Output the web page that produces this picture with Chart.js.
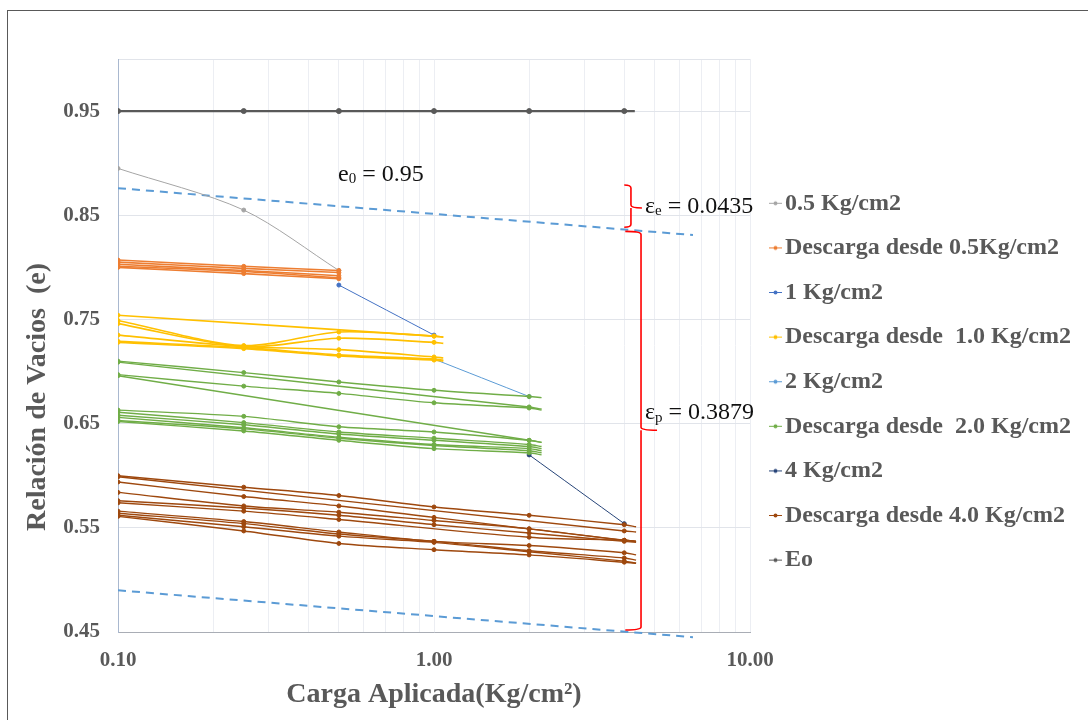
<!DOCTYPE html>
<html lang="es">
<head>
<meta charset="utf-8">
<title>Relación de Vacios vs Carga Aplicada</title>
<script src="https://cdn.jsdelivr.net/npm/chart.js@4.4.0/dist/chart.umd.min.js"></script>
<style>
  html, body { margin: 0; padding: 0; background: #fff; overflow: hidden; }
  #grafico { position: absolute; left: 0; top: 0; }
  #marco { position: absolute; left: 7px; top: 10px; width: 1200px; height: 800px;
           border: 1px solid #595959; pointer-events: none; }
</style>
</head>
<body>
<canvas id="grafico" width="1088" height="720"></canvas>
<div id="marco"></div>
<script>
// escalones de carga (Kg/cm2)
const cargas = [0.1, 0.25, 0.5, 1, 2, 4];
const yTicks = [0.45, 0.55, 0.65, 0.75, 0.85, 0.95];
const xTicksConEtiqueta = [0.1, 1, 10];

// Eo
const xEo = [0.1, 0.25, 0.5, 1, 2, 4, 4.32];
const eo = [0.95, 0.95, 0.95, 0.95, 0.95, 0.95, 0.95];

// curvas de carga
const xCarga05 = [0.1, 0.25, 0.5];
const carga05 = [0.895, 0.855, 0.797];
const xCarga1 = [0.5, 1];
const carga1 = [0.783, 0.735];
const xCarga2 = [1, 2];
const carga2 = [0.712, 0.676];
const xCarga4 = [2, 4];
const carga4 = [0.620, 0.554];

// descargas (ultimo valor = fin de la linea, sin marcador)
const xDescarga05 = [0.1, 0.25, 0.5];
const descarga05 = [
  [0.807, 0.801, 0.797],
  [0.805, 0.799, 0.795],
  [0.803, 0.797, 0.792],
  [0.801, 0.796, 0.790],
  [0.800, 0.794, 0.789]
];
const xDescarga1 = [0.1, 0.25, 0.5, 1, 1.07];
const descarga1 = [
  [0.754, null, null, 0.734, 0.733],
  [0.749, 0.725, 0.738, 0.734, 0.733],
  [0.746, 0.724, 0.732, 0.728, 0.727],
  [0.735, 0.724, 0.721, 0.714, 0.713],
  [0.729, 0.723, 0.716, 0.712, 0.711],
  [0.728, 0.722, 0.715, 0.711, 0.710]
];
const xDescarga2 = [0.1, 0.25, 0.5, 1, 2, 2.19];
const descarga2 = [
  [0.710, 0.699, 0.690, 0.682, 0.676, 0.675],
  [0.709, null, null, null, 0.666, 0.664],
  [0.697, 0.686, 0.679, 0.670, 0.665, 0.663],
  [0.696, null, null, null, 0.634, 0.632],
  [0.663, 0.657, 0.647, 0.642, 0.634, 0.632],
  [0.661, 0.651, 0.642, 0.636, 0.630, 0.628],
  [0.658, 0.649, 0.640, 0.634, 0.628, 0.626],
  [0.656, 0.646, 0.637, 0.630, 0.626, 0.624],
  [0.653, 0.645, 0.636, 0.629, 0.624, 0.622],
  [0.652, 0.643, 0.634, 0.626, 0.622, 0.620]
];
const xDescarga4 = [0.1, 0.25, 0.5, 1, 2, 4, 4.36];
const descarga4 = [
  [0.600, 0.589, 0.581, 0.570, 0.562, 0.553, 0.551],
  [0.599, null, null, null, null, 0.547, 0.546],
  [0.594, 0.580, 0.571, 0.560, 0.549, 0.538, 0.537],
  [0.584, 0.571, 0.565, 0.557, 0.549, 0.538, 0.537],
  [0.576, 0.569, 0.562, 0.553, 0.545, 0.537, 0.536],
  [0.574, 0.566, 0.558, null, 0.541, 0.538, 0.537],
  [0.566, 0.556, 0.546, 0.537, 0.533, 0.526, 0.524],
  [0.564, 0.554, 0.544, 0.537, 0.528, 0.521, 0.519],
  [0.562, 0.551, 0.542, 0.536, 0.527, 0.518, 0.516],
  [0.561, 0.547, 0.535, 0.529, 0.524, 0.517, 0.516]
];

// rectas punteadas
const xTendencia = [0.1, 6.6];
const tendenciaSup = [0.876, 0.831];
const tendenciaInf = [0.490, 0.445];

const nombresSeries = ['0.5 Kg/cm2', 'Descarga desde 0.5Kg/cm2', '1 Kg/cm2', 'Descarga desde  1.0 Kg/cm2',
  '2 Kg/cm2', 'Descarga desde  2.0 Kg/cm2', '4 Kg/cm2', 'Descarga desde 4.0 Kg/cm2', 'Eo'];
const coloresSeries = ['#A5A5A5', '#ED7D31', '#4472C4', '#FFC000', '#5B9BD5', '#70AD47', '#264478', '#9E480E', '#595959'];

const FUENTE = "'Liberation Serif', 'Times New Roman', serif";
const GRIS = '#595959';
const ANCHO_LEYENDA = 338;

function puntos(xs, ys) {
    return xs.map((x, i) => ({ x: x, y: ys[i] }));
}
function radios(xs, ys, r) {
    return xs.map((x, i) => (cargas.includes(x) && ys[i] !== null ? r : 0));
}
function linea(label, color, xs, ys, ancho, r) {
    return {
        label: label,
        data: puntos(xs, ys),
        borderColor: color,
        backgroundColor: color,
        pointBackgroundColor: color,
        pointBorderColor: color,
        borderWidth: ancho,
        pointRadius: radios(xs, ys, r),
        pointBorderWidth: 1,
        pointHoverRadius: 0,
        tension: 0.3,
        spanGaps: true,
        fill: false
    };
}
function punteada(ys) {
    return {
        label: 'tendencia',
        data: puntos(xTendencia, ys),
        borderColor: '#5B9BD5',
        borderWidth: 2,
        borderDash: [8, 6],
        pointRadius: 0,
        tension: 0,
        clip: false,
        fill: false
    };
}

let datasets = [];
descarga05.forEach(ys => datasets.push(linea(nombresSeries[1], coloresSeries[1], xDescarga05, ys, 1.6, 2)));
descarga1.forEach(ys => datasets.push(linea(nombresSeries[3], coloresSeries[3], xDescarga1, ys, 1.6, 2)));
descarga2.forEach(ys => datasets.push(linea(nombresSeries[5], coloresSeries[5], xDescarga2, ys, 1.4, 2)));
descarga4.forEach(ys => datasets.push(linea(nombresSeries[7], coloresSeries[7], xDescarga4, ys, 1.4, 2)));
datasets.push(linea(nombresSeries[0], coloresSeries[0], xCarga05, carga05, 1, 2));
datasets.push(linea(nombresSeries[2], coloresSeries[2], xCarga1, carga1, 1, 2));
datasets.push(linea(nombresSeries[4], coloresSeries[4], xCarga2, carga2, 1, 2));
datasets.push(linea(nombresSeries[6], coloresSeries[6], xCarga4, carga4, 1, 2));
datasets.push(linea(nombresSeries[8], coloresSeries[8], xEo, eo, 2.25, 2.5));
datasets.push(punteada(tendenciaSup));
datasets.push(punteada(tendenciaInf));

// icono de leyenda: linea corta con punto, pegada al texto
function icono(color) {
    const c = document.createElement('canvas');
    c.width = 38; c.height = 7;
    const g = c.getContext('2d');
    g.strokeStyle = color; g.lineWidth = 1;
    g.beginPath(); g.moveTo(24, 3.5); g.lineTo(37, 3.5); g.stroke();
    g.fillStyle = color;
    g.beginPath(); g.arc(30.5, 3.5, 2, 0, Math.PI * 2); g.fill();
    return c;
}

// llaves rojas y textos
const llaves = [
    { xGancho: 4.0, xLomo: 4.2, xPunta: 4.55, yArriba: 0.879, yMedio: 0.857, yAbajo: 0.8385,
      xTexto: 4.65, yTexto: 0.8587, simbolo: 'ε', sub: 'e', resto: ' = 0.0435' },
    { xGancho: 4.03, xLomo: 4.52, xPunta: 5.08, yArriba: 0.8345, yMedio: 0.6437, yAbajo: 0.4519,
      xTexto: 4.65, yTexto: 0.6606, simbolo: 'ε', sub: 'p', resto: ' = 0.3879' }
];
const etiquetaE0 = { x: 0.497, y: 0.8894, simbolo: 'e', sub: '0', resto: ' = 0.95' };

function textoSub(ctx, x, y, simbolo, sub, resto) {
    ctx.textAlign = 'left';
    ctx.textBaseline = 'middle';
    ctx.font = '24px ' + FUENTE;
    ctx.fillText(simbolo, x, y);
    x += ctx.measureText(simbolo).width;
    ctx.font = '15px ' + FUENTE;
    ctx.fillText(sub, x, y + 5);
    x += ctx.measureText(sub).width;
    ctx.font = '24px ' + FUENTE;
    ctx.fillText(resto, x, y);
}

// ancho fijo de la leyenda para que el area del grafico termine en x=10
const anchoLeyenda = {
    id: 'anchoLeyenda',
    beforeLayout(chart) {
        const lg = chart.legend;
        if (lg && !lg._anchoFijo) {
            const fitOriginal = lg.fit.bind(lg);
            lg.fit = function () {
                fitOriginal();
                this.width = ANCHO_LEYENDA;
            };
            lg._anchoFijo = true;
        }
    }
};

const anotaciones = {
    id: 'anotaciones',
    afterDatasetsDraw(chart) {
        const ctx = chart.ctx;
        const sx = chart.scales.x, sy = chart.scales.y;
        ctx.save();
        ctx.strokeStyle = '#FF0000';
        ctx.lineWidth = 1.6;
        llaves.forEach(l => {
            const xg = sx.getPixelForValue(l.xGancho), xl = sx.getPixelForValue(l.xLomo), xp = sx.getPixelForValue(l.xPunta);
            const ya = sy.getPixelForValue(l.yArriba), ym = sy.getPixelForValue(l.yMedio), yb = sy.getPixelForValue(l.yAbajo);
            const r = 3;
            ctx.beginPath();
            ctx.moveTo(xg, ya);
            ctx.quadraticCurveTo(xl, ya, xl, ya + r);
            ctx.lineTo(xl, ym - r);
            ctx.quadraticCurveTo(xl, ym, xp, ym);
            ctx.moveTo(xl, ym);
            ctx.lineTo(xl, ym + r);
            ctx.lineTo(xl, yb - r);
            ctx.quadraticCurveTo(xl, yb, xg, yb);
            ctx.stroke();
            ctx.fillStyle = '#111';
            textoSub(ctx, sx.getPixelForValue(l.xTexto), sy.getPixelForValue(l.yTexto), l.simbolo, l.sub, l.resto);
        });
        ctx.fillStyle = '#111';
        textoSub(ctx, sx.getPixelForValue(etiquetaE0.x), sy.getPixelForValue(etiquetaE0.y),
            etiquetaE0.simbolo, etiquetaE0.sub, etiquetaE0.resto);

        // titulo eje Y
        ctx.translate(38, chart.chartArea.top + 338);
        ctx.rotate(-Math.PI / 2);
        ctx.textAlign = 'center';
        ctx.textBaseline = 'middle';
        ctx.fillStyle = GRIS;
        ctx.font = 'bold 28px ' + FUENTE;
        ctx.fillText('Relación de Vacios  (e)', 0, 0);
        ctx.restore();
    }
};

const ctx = document.getElementById('grafico').getContext('2d');
new Chart(ctx, {
    type: 'line',
    data: { datasets: datasets },
    options: {
        responsive: false,
        animation: false,
        devicePixelRatio: 1,
        layout: { padding: { top: 59, right: 0, left: 0, bottom: 0 } },
        plugins: {
            tooltip: { enabled: false },
            legend: {
                position: 'right',
                align: 'center',
                onClick: null,
                labels: {
                    usePointStyle: true,
                    pointStyleWidth: 18,
                    padding: 5,
                    color: GRIS,
                    font: { family: FUENTE, size: 24, weight: 'bold', lineHeight: '39.6px' },
                    generateLabels: () => nombresSeries.map((n, i) => ({
                        text: [n],
                        fillStyle: coloresSeries[i],
                        strokeStyle: coloresSeries[i],
                        lineWidth: 0,
                        pointStyle: icono(coloresSeries[i]),
                        fontColor: GRIS,
                        hidden: false
                    }))
                }
            }
        },
        scales: {
            x: {
                type: 'logarithmic',
                min: 0.1,
                max: 10,
                afterBuildTicks: (scale) => {
                    const t = [];
                    [0.1, 1].forEach(d => { for (let k = 1; k < 10; k++) t.push({ value: d * k }); });
                    t.push({ value: 10 });
                    scale.ticks = t;
                },
                afterFit: (scale) => { scale.height = 88; },
                grid: { color: '#eceef3', drawTicks: false },
                border: { color: '#a9adb5' },
                ticks: {
                    autoSkip: false,
                    maxRotation: 0,
                    padding: 16,
                    color: GRIS,
                    font: { family: FUENTE, size: 21, weight: 'bold' },
                    callback: (v) => (xTicksConEtiqueta.includes(v) ? v.toFixed(2) : '')
                },
                title: {
                    display: true,
                    text: 'Carga Aplicada(Kg/cm²)',
                    color: GRIS,
                    font: { family: FUENTE, size: 28, weight: 'bold' },
                    padding: { top: 0, bottom: 8 }
                }
            },
            y: {
                min: 0.45,
                max: 1.0,
                afterBuildTicks: (scale) => {
                    scale.ticks = yTicks.concat([1.0]).map(v => ({ value: v }));
                },
                afterFit: (scale) => { scale.width = 118; },
                grid: { color: '#e1e4ea', drawTicks: false },
                border: { color: '#a9b8cf' },
                ticks: {
                    padding: 18,
                    color: GRIS,
                    font: { family: FUENTE, size: 21, weight: 'bold' },
                    callback: (v) => (yTicks.includes(v) ? v.toFixed(2) : '')
                }
            }
        }
    },
    plugins: [anchoLeyenda, anotaciones]
});
</script>
</body>
</html>
